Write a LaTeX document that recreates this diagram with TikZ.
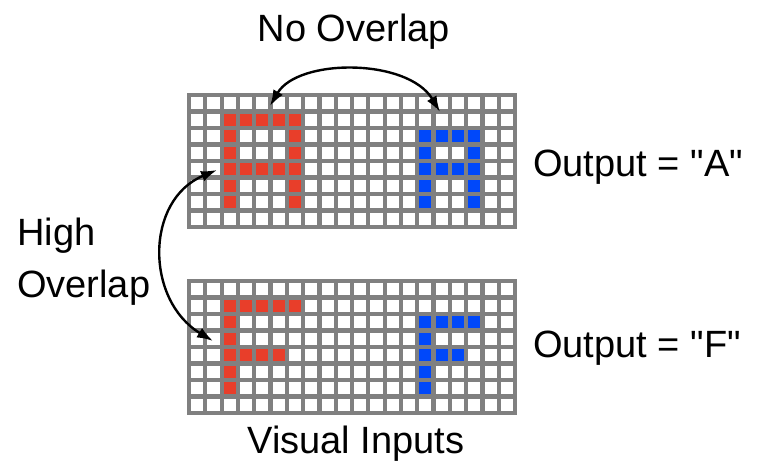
\documentclass[tikz,border=0pt]{standalone}
\usepackage{fontspec}
\setmainfont{Liberation Sans}[Ligatures=TeXOff]
\usetikzlibrary{arrows.meta}

\definecolor{gridgray}{RGB}{128,128,128}
\definecolor{pixred}{RGB}{232,62,42}
\definecolor{pixblue}{RGB}{0,72,250}

% cell size of the pixel grids
\def\cw{16.3}
\def\ch{16.5}

% one 20x8 pixel grid with its top-left corner at (#1,#2)
\newcommand{\pixelgrid}[2]{%
  \foreach \i in {0,...,20}
    \draw[gridline] ({#1+\i*\cw},#2) -- ({#1+\i*\cw},{#2+8*\ch});
  \foreach \j in {0,...,8}
    \draw[gridline] (#1,{#2+\j*\ch}) -- ({#1+20*\cw},{#2+\j*\ch});
}
% filled cells (column/row, counted from 1) in a grid at (#1,#2)
\newcommand{\pixcells}[4]{%
  \foreach \c/\r in {#4}
    \fill[#3] ({#1+(\c-1)*\cw},{#2+(\r-1)*\ch}) rectangle ++(\cw,\ch);
}

\tikzset{
  gridline/.style={draw=gridgray, line width=4.2pt, line cap=rect},
  label/.style={inner sep=0pt, font=\fontsize{38}{44}\selectfont},
  conn/.style={line width=2.4pt, draw=black,
    {Latex[length=16pt,width=11pt]}-{Latex[length=16pt,width=11pt]}},
}

\begin{document}
\begin{tikzpicture}[x=1pt, y=-1pt]
  \fill[white] (0,0) rectangle (757,463);
  \useasboundingbox (0,0) rectangle (757,463);

  % upper grid: the letter A
  \pixcells{189}{95}{pixred}{3/2,4/2,5/2,6/2,7/2,3/3,7/3,3/4,7/4,
    3/5,4/5,5/5,6/5,7/5,3/6,7/6,3/7,7/7}
  \pixcells{189}{95}{pixblue}{15/3,16/3,17/3,18/3,15/4,18/4,
    15/5,16/5,17/5,18/5,15/6,18/6,15/7,18/7}
  \pixelgrid{189}{95}

  % lower grid: the letter F
  \pixcells{189}{281}{pixred}{3/2,4/2,5/2,6/2,7/2,3/3,3/4,
    3/5,4/5,5/5,6/5,3/6,3/7}
  \pixcells{189}{281}{pixblue}{15/3,16/3,17/3,18/3,15/4,
    15/5,16/5,17/5,15/6,15/7}
  \pixelgrid{189}{281}

  % labels
  \node[label, anchor=base] (nooverlap) at (354,41) {No Overlap};
  \node[label, anchor=base west] (outa) at (533,176) {Output = "A"};
  \node[label, anchor=base west] (outf) at (533,357) {Output = "F"};
  \node[label, anchor=base west] (high) at (17,245) {High};
  \node[label, anchor=base west] (overlap) at (17,297) {Overlap};
  \node[label, anchor=base] (visual) at (356,453) {Visual Inputs};

  % arrow ends
  \coordinate (redA) at (270,106);
  \coordinate (blueA) at (440,112);
  \coordinate (sideA) at (217,170);
  \coordinate (sideF) at (213,341);

  \draw[conn] (redA) .. controls (298,58) and (408,58) .. (blueA);
  \draw[conn] (sideA) .. controls (145,200) and (145,300) .. (sideF);
\end{tikzpicture}
\end{document}
